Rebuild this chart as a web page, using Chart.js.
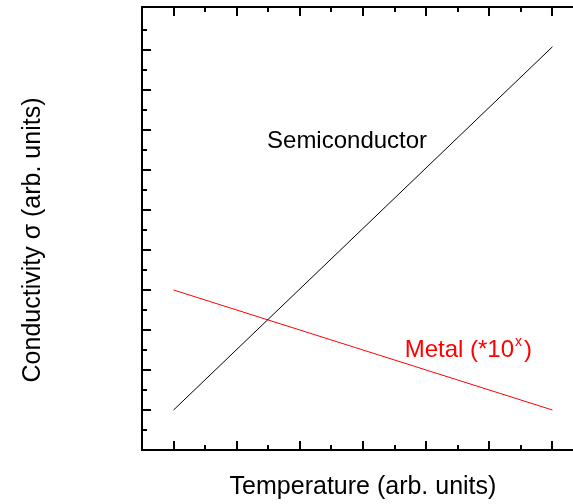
<!DOCTYPE html>
<html>
<head>
<meta charset="utf-8">
<script src="https://cdn.jsdelivr.net/npm/chart.js@4.4.1/dist/chart.umd.min.js"></script>
<style>
  html, body { margin: 0; padding: 0; background: #fff; overflow: hidden; }
  #wrap { width: 590px; height: 504px; }
</style>
</head>
<body>
<div id="wrap"><canvas id="chart" width="590" height="504"></canvas></div>
<script>
// data
const temperature = [1, 7];
const semiconductor = [1, 10.08];
const metal = [4, 1];
const xMajor = [1, 2, 3, 4, 5, 6, 7];
const xMinor = [1.5, 2.5, 3.5, 4.5, 5.5, 6.5];
const yMajor = [1, 2, 3, 4, 5, 6, 7, 8, 9, 10];
const yMinor = [0.5, 1.5, 2.5, 3.5, 4.5, 5.5, 6.5, 7.5, 8.5, 9.5, 10.5];

const toPoints = (xs, ys) => xs.map((x, i) => ({ x: x, y: ys[i] }));

// frame, inward ticks and labels
const framePlugin = {
  id: 'frame',
  afterDraw(chart) {
    const ctx = chart.ctx;
    const a = chart.chartArea;
    const sx = chart.scales.x, sy = chart.scales.y;
    ctx.save();
    ctx.strokeStyle = '#000';
    ctx.lineWidth = 2;
    ctx.strokeRect(a.left, a.top, a.right - a.left, a.bottom - a.top);

    function xTick(v, len) {
      const px = Math.round(sx.getPixelForValue(v));
      ctx.beginPath();
      ctx.moveTo(px, a.bottom); ctx.lineTo(px, a.bottom - len);
      ctx.moveTo(px, a.top); ctx.lineTo(px, a.top + len);
      ctx.stroke();
    }
    function yTick(v, len) {
      const py = Math.round(sy.getPixelForValue(v));
      ctx.beginPath();
      ctx.moveTo(a.left, py); ctx.lineTo(a.left + len, py);
      ctx.moveTo(a.right, py); ctx.lineTo(a.right - len, py);
      ctx.stroke();
    }
    xMajor.forEach(v => xTick(v, 9));
    xMinor.forEach(v => xTick(v, 5));
    yMajor.forEach(v => yTick(v, 9));
    yMinor.forEach(v => yTick(v, 5));

    const big = '25px "Liberation Sans", Arial, sans-serif';
    const mid = '24px "Liberation Sans", Arial, sans-serif';
    ctx.textBaseline = 'alphabetic';

    // x title
    ctx.font = big;
    ctx.fillStyle = '#000';
    ctx.textAlign = 'center';
    ctx.fillText('Temperature (arb. units)', (a.left + a.right) / 2, 494);

    // y title
    ctx.save();
    ctx.translate(40, 240);
    ctx.rotate(-Math.PI / 2);
    ctx.fillText('Conductivity \u03c3 (arb. units)', 0, 0);
    ctx.restore();

    // curve labels
    ctx.font = mid;
    ctx.textAlign = 'left';
    ctx.fillText('Semiconductor', sx.getPixelForValue(2.48), sy.getPixelForValue(7.55));
    ctx.fillStyle = '#ff0000';
    const mx = sx.getPixelForValue(4.66), my = sy.getPixelForValue(2.33);
    const t = 'Metal (*10';
    ctx.fillText(t, mx, my);
    const w = ctx.measureText(t).width;
    ctx.font = '14px "Liberation Sans", Arial, sans-serif';
    ctx.fillText('x', mx + w + 1, my - 11);
    const wx = ctx.measureText('x').width;
    ctx.font = mid;
    ctx.fillText(')', mx + w + wx + 3, my);
    ctx.restore();
  }
};

new Chart(document.getElementById('chart'), {
  type: 'line',
  data: {
    datasets: [
      {
        label: 'Semiconductor',
        data: toPoints(temperature, semiconductor),
        borderColor: '#000000',
        borderWidth: 1,
        pointRadius: 0,
        tension: 0
      },
      {
        label: 'Metal',
        data: toPoints(temperature, metal),
        borderColor: '#ff0000',
        borderWidth: 1,
        pointRadius: 0,
        tension: 0
      }
    ]
  },
  options: {
    responsive: false,
    animation: false,
    layout: { padding: { left: 142, top: 7, right: 6, bottom: 54 } },
    plugins: { legend: { display: false }, tooltip: { enabled: false } },
    scales: {
      x: { type: 'linear', min: 0.5, max: 7.5, display: false },
      y: { type: 'linear', min: 0, max: 11.075, display: false }
    }
  },
  plugins: [framePlugin]
});
</script>
</body>
</html>
